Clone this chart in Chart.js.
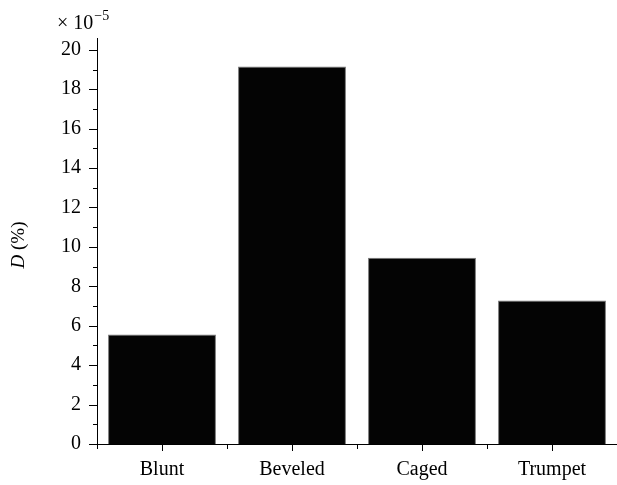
<!DOCTYPE html>
<html>
<head>
<meta charset="utf-8">
<script src="https://cdn.jsdelivr.net/npm/chart.js@4/dist/chart.umd.min.js"></script>
<style>
html,body{margin:0;padding:0;background:#fff;}
#wrap{width:617px;height:485px;position:relative;}
</style>
</head>
<body>
<div id="wrap"><canvas id="c" width="617" height="485"></canvas></div>
<script>
const categories = ["Blunt", "Beveled", "Caged", "Trumpet"];
const values = [5.55, 19.15, 9.45, 7.28];
const yTicks = [0, 2, 4, 6, 8, 10, 12, 14, 16, 18, 20];
const yMinorTicks = [1, 3, 5, 7, 9, 11, 13, 15, 17, 19];
const exponentLabel = ["\u00d7 10", "\u22125"];
const yTitle = ["D", " (%)"];

const FONT = "'Liberation Serif', 'DejaVu Serif', serif";

const decorPlugin = {
  id: 'decor',
  afterDraw(chart) {
    const ctx = chart.ctx;
    const y = chart.scales.y, x = chart.scales.x;
    const left = chart.chartArea.left, bottom = chart.chartArea.bottom;
    ctx.save();
    ctx.strokeStyle = '#000';
    ctx.lineWidth = 1;
    ctx.beginPath();
    yTicks.forEach(v => {
      const py = Math.round(y.getPixelForValue(v)) + 0.5;
      ctx.moveTo(left - 8, py); ctx.lineTo(left, py);
    });
    yMinorTicks.forEach(v => {
      const py = Math.round(y.getPixelForValue(v)) + 0.5;
      ctx.moveTo(left - 4, py); ctx.lineTo(left, py);
    });
    for (let i = 0; i < categories.length; i++) {
      const px = Math.round(x.getPixelForValue(i)) + 0.5;
      ctx.moveTo(px, bottom); ctx.lineTo(px, bottom + 7);
    }
    for (let i = 0; i <= categories.length; i++) {
      const px = Math.round(x.getPixelForValue(i - 0.5)) + 0.5;
      ctx.moveTo(px, bottom); ctx.lineTo(px, bottom + 5);
    }
    ctx.stroke();

    // exponent label
    ctx.fillStyle = '#000';
    ctx.textBaseline = 'alphabetic';
    ctx.textAlign = 'left';
    ctx.font = "20px " + FONT;
    ctx.fillText(exponentLabel[0], 57, 29);
    const w = ctx.measureText(exponentLabel[0]).width;
    ctx.font = "14px " + FONT;
    ctx.fillText(exponentLabel[1], 57 + w + 1, 20);

    // y title
    ctx.translate(24, 245);
    ctx.rotate(-Math.PI / 2);
    ctx.font = "italic 19px " + FONT;
    const w1 = ctx.measureText(yTitle[0]).width;
    ctx.font = "19px " + FONT;
    const w2 = ctx.measureText(yTitle[1]).width;
    const start = -(w1 + w2) / 2;
    ctx.font = "italic 19px " + FONT;
    ctx.fillText(yTitle[0], start, 0);
    ctx.font = "19px " + FONT;
    ctx.fillText(yTitle[1], start + w1, 0);
    ctx.restore();
  }
};

new Chart(document.getElementById('c'), {
  type: 'bar',
  data: {
    labels: categories,
    datasets: [{
      data: values,
      backgroundColor: '#040404',
      borderColor: '#777',
      borderWidth: 1,
      barPercentage: 0.83,
      categoryPercentage: 1.0
    }]
  },
  options: {
    responsive: false,
    animation: false,
    devicePixelRatio: 1,
    layout: { padding: { left: 0, right: 0, top: 38, bottom: 0 } },
    plugins: { legend: { display: false }, tooltip: { enabled: false } },
    scales: {
      x: {
        offset: true,
        grid: { display: false, drawTicks: false },
        border: { display: true, color: '#000', width: 1 },
        ticks: { color: '#000', font: { family: FONT, size: 20 }, padding: 14, maxRotation: 0 },
        afterFit(s) { s.height = 41; }
      },
      y: {
        min: 0, max: 20.6,
        grid: { display: false, drawTicks: false },
        border: { display: true, color: '#000', width: 1 },
        afterBuildTicks(s) { s.ticks = yTicks.map(v => ({ value: v })); },
        ticks: { color: '#000', font: { family: FONT, size: 20 }, padding: 16 },
        afterFit(s) { s.width = 97; }
      }
    }
  },
  plugins: [decorPlugin]
});
</script>
</body>
</html>
